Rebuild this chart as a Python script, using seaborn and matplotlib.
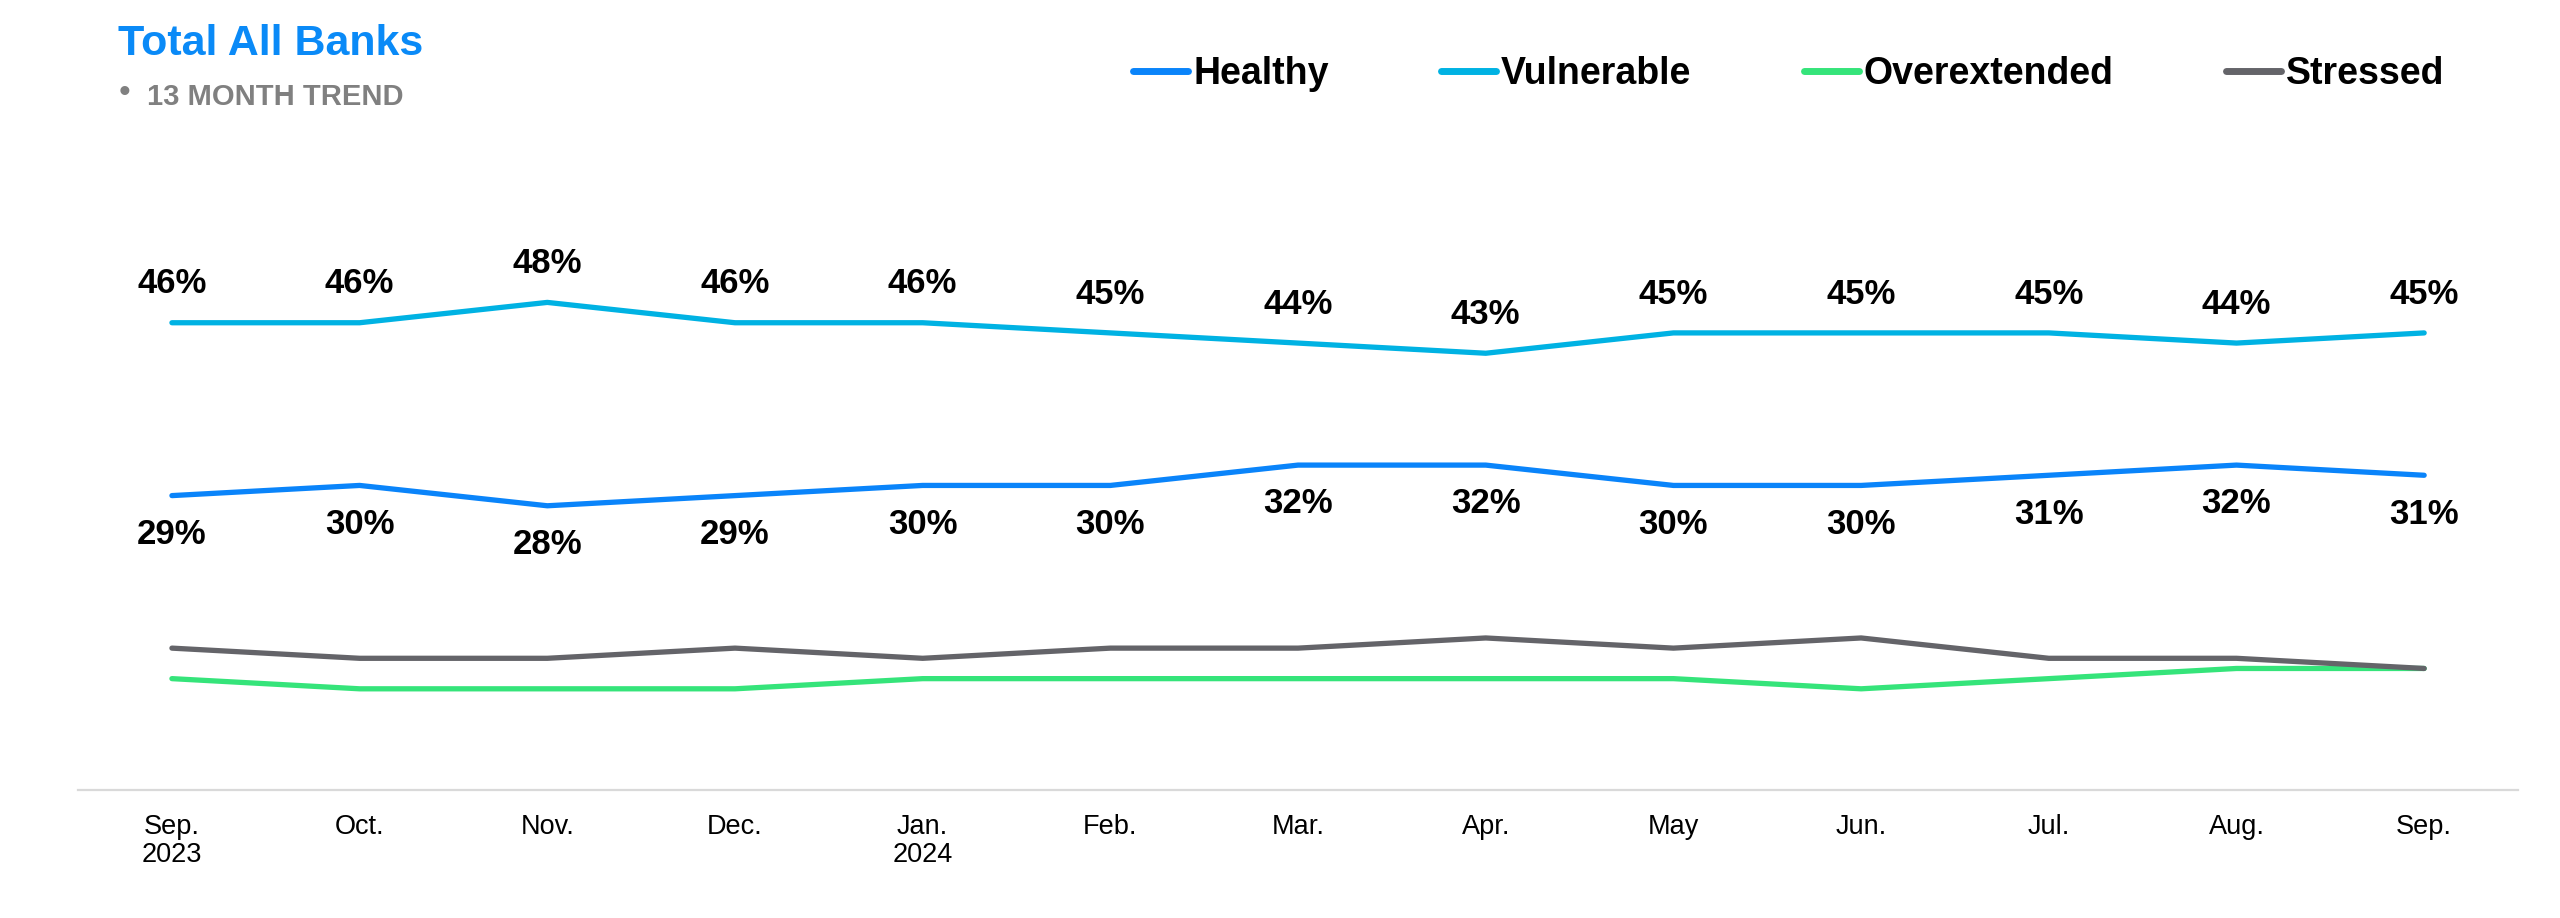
import pandas as pd
import seaborn as sns
import matplotlib.pyplot as plt

# Monthly values (percent of accounts)
months = ['Sep.\n2023', 'Oct.', 'Nov.', 'Dec.', 'Jan.\n2024', 'Feb.', 'Mar.',
          'Apr.', 'May', 'Jun.', 'Jul.', 'Aug.', 'Sep.']
healthy = [29, 30, 28, 29, 30, 30, 32, 32, 30, 30, 31, 32, 31]
vulnerable = [46, 46, 48, 46, 46, 45, 44, 43, 45, 45, 45, 44, 45]
overextended = [11, 10, 10, 10, 11, 11, 11, 11, 11, 10, 11, 12, 12]
stressed = [14, 13, 13, 14, 13, 14, 14, 15, 14, 15, 13, 13, 12]

segments = ['Healthy', 'Vulnerable', 'Overextended', 'Stressed']
palette = {'Healthy': '#0A84FA', 'Vulnerable': '#00B2E3',
           'Overextended': '#35E47A', 'Stressed': '#646469'}

# Build a long table for seaborn
rows = []
for name, vals in zip(segments, [healthy, vulnerable, overextended, stressed]):
    for i, v in enumerate(vals):
        rows.append({'pos': i, 'value': v, 'segment': name})
df = pd.DataFrame(rows)

sns.set_theme(style='white')
plt.rcParams['font.family'] = ['Liberation Sans', 'DejaVu Sans']

fig = plt.figure(figsize=(25.6, 9.18), dpi=100)
ax = fig.add_axes([0.0305, 0.1389, 0.9531, 0.6646])

sns.lineplot(data=df, x='pos', y='value', hue='segment', hue_order=segments,
             palette=palette, linewidth=3.8, ax=ax)

# Data labels: vulnerable above the line, healthy below
for i, v in enumerate(vulnerable):
    ax.annotate(f'{v}%', (i, v), xytext=(0, 28), textcoords='offset points',
                ha='center', va='center', fontsize=25, fontweight='bold', color='black')
for i, v in enumerate(healthy):
    ax.annotate(f'{v}%', (i, v), xytext=(0, -28), textcoords='offset points',
                ha='center', va='center', fontsize=25, fontweight='bold', color='black')

ax.set_xlim(-0.5, 12.5)
ax.set_ylim(0, 60)
ax.set_xticks(range(len(months)))
ax.set_xticklabels(months, fontsize=19.5, linespacing=1.1)
ax.tick_params(axis='x', length=0, pad=17, colors='black')
ax.set_yticks([])
ax.set_xlabel('')
ax.set_ylabel('')
for s in ['top', 'left', 'right']:
    ax.spines[s].set_visible(False)
ax.spines['bottom'].set_color('#D9D9D9')
ax.spines['bottom'].set_linewidth(1.6)

# Legend across the top
handles, labels = ax.get_legend_handles_labels()
ax.get_legend().remove()
leg = fig.legend(handles, labels, loc='center left', bbox_to_anchor=(1133 / 2560, 1 - 74 / 918),
                 ncol=4, frameon=False, borderpad=0, borderaxespad=0,
                 handlelength=1.47, handletextpad=0.13, columnspacing=3.0,
                 prop={'size': 27, 'weight': 'bold'})
for text in leg.get_texts():
    text.set_color('black')
for line in leg.get_lines():
    line.set_linewidth(5)
    line.set_solid_capstyle('round')

# Title block
fig.text(118 / 2560, 1 - 55 / 918, 'Total All Banks', fontsize=31, fontweight='bold',
         color='#0A8AF7', va='baseline', ha='left')
fig.text(119 / 2560, 1 - 102 / 918, '\u2022', fontsize=24, color='#808080',
         va='baseline', ha='left')
fig.text(147 / 2560, 1 - 105 / 918, '13 MONTH TREND', fontsize=21, fontweight='bold',
         color='#808080', va='baseline', ha='left')

fig.savefig('out.png', dpi=100)
